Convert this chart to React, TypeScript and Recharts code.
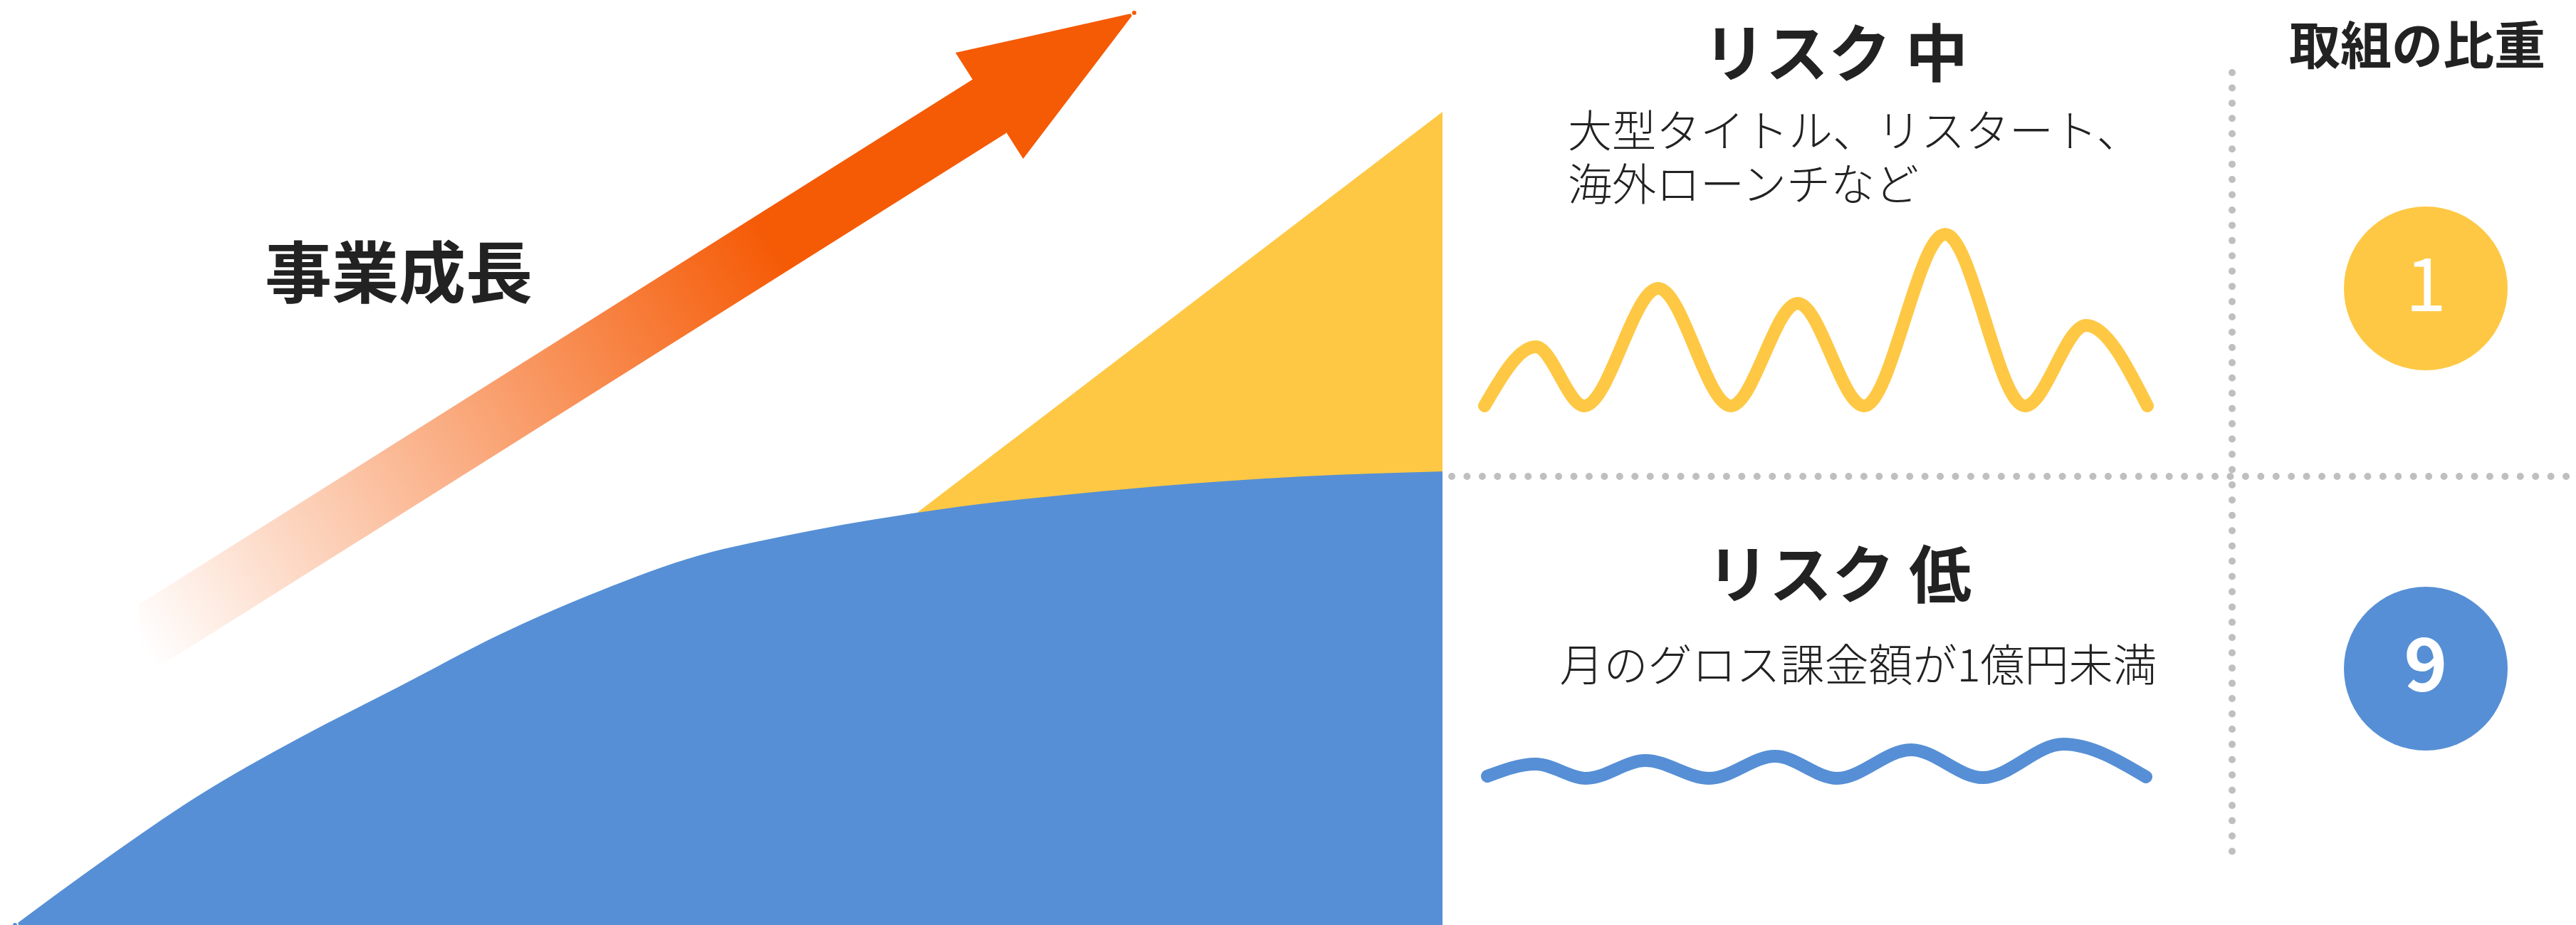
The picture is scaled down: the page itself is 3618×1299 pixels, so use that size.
import { ComposedChart, Area, Line, Scatter, XAxis, YAxis, ReferenceLine, ReferenceDot } from "recharts"

const W = 3618
const H = 1299
const FONT = '"Noto Sans CJK JP", "Noto Sans", sans-serif'
const INK = "#222222"
const BLUE = "#568FD5"
const YELLOW = "#FEC844"
const ORANGE = "#F55A05"
const DOTS = "#BFBFBF"

// 事業成長カーブ（リスク低の積み上がり）
const growthX = [21, 140, 281, 421, 561, 702, 842, 982, 1100, 1288, 1569, 1830, 2026]
const growthH = [0, 87, 183, 263, 335, 408, 469, 519, 546, 579, 611, 630, 637]

// リスク中の上乗せ部分
const stretchX = [1288, 2026]
const stretchH = [579, 1142]

// 矢印（軸と頭）
const shaftX = [195, 1413]
const shaftLow = [345, 1112]
const shaftHigh = [450, 1217]
const headX = [1342, 1437, 1593]
const headLow = [1225, 1076, 1281]
const headHigh = [1225, 1246, 1281]

// 波線
const midWaveX = [2085, 2157, 2225, 2329, 2431, 2525, 2618, 2732, 2844, 2930, 3016]
const midWaveH = [729, 812, 729, 894, 729, 873, 729, 970, 729, 842, 729]
const lowWaveX = [2089, 2157, 2228, 2311, 2401, 2493, 2580, 2684, 2785, 2898, 3014]
const lowWaveH = [209, 226, 206, 231, 206, 237, 206, 246, 207, 254, 208]

// 取組の比重
const weightLabels = ["1", "9"]
const weightX = [3407, 3407]
const weightH = [894, 360]

const zip = (xs: number[], ys: number[]) => xs.map((x, i) => ({ x, h: ys[i] }))
const band = (xs: number[], lo: number[], hi: number[]) => xs.map((x, i) => ({ x, band: [lo[i], hi[i]] }))

const growth = zip(growthX, growthH)
const stretch = zip(stretchX, stretchH)
const shaft = band(shaftX, shaftLow, shaftHigh)
const head = band(headX, headLow, headHigh)
const midWave = zip(midWaveX, midWaveH)
const lowWave = zip(lowWaveX, lowWaveH)
const weights = weightLabels.map((label, i) => ({ x: weightX[i], h: weightH[i], label }))

function caption(lines: string[], size: number, weight: number, anchor: "start" | "middle" = "middle", step = 75) {
  return (props: any) => {
    const vb = props.viewBox
    const x = vb.x + vb.width / 2
    const y = vb.y + vb.height / 2
    return (
      <text x={x} y={y} textAnchor={anchor} dominantBaseline="central"
        fontFamily={FONT} fontSize={size} fontWeight={weight} fill={INK}>
        {lines.map((l, i) => (
          <tspan key={i} x={x} dy={i === 0 ? 0 : step}>{l}</tspan>
        ))}
      </text>
    )
  }
}

function badge(weight: number) {
  return (props: any) => {
    const { cx, cy, fill, payload } = props
    return (
      <g>
        <circle cx={cx} cy={cy} r={115} fill={fill} />
        <text x={cx} y={cy - 14} textAnchor="middle" dominantBaseline="central"
          fontFamily={FONT} fontSize={104} fontWeight={weight} fill="#ffffff">
          {payload.label}
        </text>
      </g>
    )
  }
}

export default function App() {
  return (
    <div style={{ position: "absolute", left: 0, top: 0, width: W, height: H, background: "#fff" }}>
      <ComposedChart width={W} height={H} margin={{ top: 0, right: 0, bottom: 0, left: 0 }}>
        <defs>
          <linearGradient id="shaftFade" x1="0" y1="0.94" x2="1" y2="0.49">
            <stop offset="0" stopColor={ORANGE} stopOpacity={0} />
            <stop offset="0.85" stopColor={ORANGE} stopOpacity={1} />
            <stop offset="1" stopColor={ORANGE} stopOpacity={1} />
          </linearGradient>
        </defs>
        <XAxis type="number" dataKey="x" domain={[0, W]} allowDataOverflow hide />
        <YAxis type="number" domain={[0, H]} allowDataOverflow hide />

        <Area data={stretch} dataKey="h" type="linear" stroke="none" fill={YELLOW} fillOpacity={1} isAnimationActive={false} />
        <Area data={growth} dataKey="h" type="monotone" stroke="none" fill={BLUE} fillOpacity={1} isAnimationActive={false} />
        <Area data={shaft} dataKey="band" type="linear" stroke="none" fill="url(#shaftFade)" fillOpacity={1} isAnimationActive={false} />
        <Area data={head} dataKey="band" type="linear" stroke="none" fill={ORANGE} fillOpacity={1} isAnimationActive={false} />

        <ReferenceLine segment={[{ x: 2039, y: 630 }, { x: 3605, y: 630 }]} stroke={DOTS} strokeWidth={10}
          strokeDasharray="0 21.44" strokeLinecap="round" />
        <ReferenceLine segment={[{ x: 3135, y: 1197 }, { x: 3135, y: 103 }]} stroke={DOTS} strokeWidth={10}
          strokeDasharray="0 21.44" strokeLinecap="round" />

        <Line data={midWave} dataKey="h" type="monotone" stroke={YELLOW} strokeWidth={18} strokeLinecap="round"
          dot={false} activeDot={false} isAnimationActive={false} />
        <Line data={lowWave} dataKey="h" type="monotone" stroke={BLUE} strokeWidth={18} strokeLinecap="round"
          dot={false} activeDot={false} isAnimationActive={false} />

        <Scatter data={[weights[0]]} dataKey="h" fill={YELLOW} shape={badge(400)} isAnimationActive={false} />
        <Scatter data={[weights[1]]} dataKey="h" fill={BLUE} shape={badge(700)} isAnimationActive={false} />

        <ReferenceDot x={560} y={922} r={0} label={caption(["事業成長"], 94, 700)} />
        <ReferenceDot x={2578} y={1231} r={0} label={caption(["リスク 中"], 88, 700)} />
        <ReferenceDot x={2202} y={1119} r={0}
          label={caption(["大型タイトル、リスタート、", "海外ローンチなど"], 62, 300, "start", 75)} />
        <ReferenceDot x={2583} y={499} r={0} label={caption(["リスク 低"], 88, 700)} />
        <ReferenceDot x={2610} y={369} r={0} label={caption(["月のグロス課金額が1億円未満"], 62, 300)} />
        <ReferenceDot x={3395} y={1241} r={0} label={caption(["取組の比重"], 72, 700)} />
      </ComposedChart>
    </div>
  )
}
